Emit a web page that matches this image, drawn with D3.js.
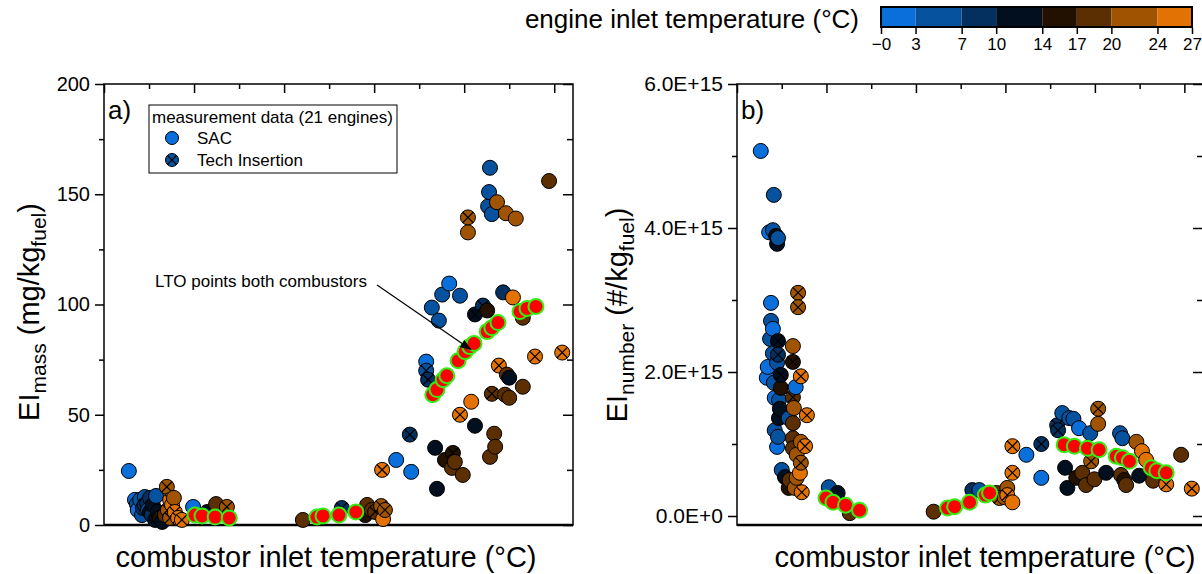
<!DOCTYPE html>
<html>
<head>
<meta charset="utf-8">
<script src="https://cdn.jsdelivr.net/npm/d3@7"></script>
<style>
  body { margin: 0; background: #fff; }
  svg { font-family: "Liberation Sans", Arial, sans-serif; }
  .axis path, .axis line { stroke: #000; }
  .axis text { font-size: 20px; fill: #000; }
</style>
</head>
<body>
<div id="chart"></div>
<script>
// colour bins of the engine inlet temperature (°C)
var tempBreaks = [3, 7, 10, 14, 17, 20, 24];
var tempColors = ["#0a6fda", "#07529f", "#03305e", "#020f1f", "#221100", "#5c2f02", "#a05402", "#e27204"];
var tempTicks = [0, 3, 7, 10, 14, 17, 20, 24, 27];
var tempTickLabels = ["\u22120", "3", "7", "10", "14", "17", "20", "24", "27"];

// panel a) EI mass, [combustor inlet temp (rel. units), EI mg/kg, engine inlet temp]
var aSac = [
  [5.3, 24.5, 1.5], [7.7, 11.4, 5], [8.7, 12.7, 5], [9.8, 12.3, 8.5], [7.0, 9.5, 5], [8.3, 7.7, 8.5],
  [9.4, 6.8, 5], [10.2, 4.5, 8.5], [10.9, 2.3, 12], [8.1, 4.5, 5], [7.2, 6.8, 1.5], [9.2, 10, 8.5],
  [10.4, 9.1, 12], [11.5, 5.9, 12], [11.9, 3.2, 15.5], [12.4, 1.4, 12], [6.6, 11.4, 1.5], [11.1, 13.2, 5],
  [13.0, 4.5, 18.5], [14.9, 12.3, 22], [19.0, 8.2, 1.5], [23.9, 9.5, 18.5], [22.0, 5.9, 12],
  [42.4, 2.3, 18.5], [56.1, 9.1, 18.5], [57.1, 6.8, 18.5], [59.5, 2.7, 25.5], [55.7, 4.5, 15.5],
  [62.3, 29.5, 1.5], [65.5, 24.1, 1.5],
  [82.3, 162, 5], [82.1, 151, 5], [81.9, 144.5, 5], [82.7, 141, 5], [83.8, 146.4, 22], [85.7, 141.4, 22],
  [87.8, 139, 22], [77.6, 132.7, 22], [94.9, 156, 18.5], [73.6, 109.5, 1.5], [72.1, 104.5, 5],
  [75.9, 104, 5], [85.1, 105.5, 8.5], [87.2, 103.2, 25.5], [69.9, 98.6, 5], [71.4, 92.7, 5],
  [81.7, 97.3, 15.5], [89.3, 94, 18.5], [68.7, 74.1, 1.5], [86.4, 66.8, 12], [85.9, 68.2, 18.5],
  [89.3, 62.7, 18.5], [86.4, 57.7, 18.5], [85.5, 59.1, 18.5], [78.3, 55.9, 25.5], [79.1, 45, 12],
  [70.6, 35, 12], [83.2, 41.4, 18.5], [83.4, 35.5, 18.5], [82.3, 30.9, 18.5], [72.7, 29.5, 15.5],
  [74.8, 28.6, 18.5], [74.2, 25.9, 18.5], [76.5, 22.7, 18.5], [71, 16.4, 12]
];
var aTech = [
  [8.7, 9.1, 8.5], [9.8, 5.9, 12], [13.4, 17.3, 22], [14.1, 11.4, 25.5], [14.5, 9.1, 25.5],
  [13.6, 6.8, 22], [15.1, 5.9, 25.5], [15.8, 3.2, 25.5], [14.1, 3.2, 22], [16.6, 2.3, 25.5],
  [26.2, 8.2, 22], [50.7, 7.7, 8.5], [57.8, 5.9, 18.5], [59.1, 8.6, 22], [59.9, 6.8, 22],
  [65.2, 41, 8.5], [59.3, 25, 25.5], [77.6, 139.5, 22], [80.8, 99.5, 8.5], [79.1, 95.5, 12],
  [68.7, 70, 5], [69.1, 65.9, 8.5], [84.2, 72.3, 25.5], [91.9, 76.4, 25.5], [97.7, 78.2, 25.5],
  [82.7, 59.5, 18.5], [75.9, 50, 25.5], [74.4, 32.7, 15.5]
];
var aLto = [
  [19.4, 4.5], [20.9, 4.1], [23.7, 3.6], [26.7, 3.2],
  [45.4, 3.6], [46.7, 4.1], [50.1, 4.5], [53.7, 5.9],
  [70.1, 59.1], [71, 61.4], [72.3, 65.9], [73.1, 67.7], [75.5, 74.5], [77, 78.6], [78, 80.9],
  [78.9, 82.3], [81.7, 87.7], [82.7, 89.5], [84, 91.8], [88.7, 96.8], [90.2, 98.2], [92.1, 99.1]
];

// panel b) EI number, y in 1e15 #/kg
var bSac = [
  [5.1, 5.07, 1.5], [7.9, 4.46, 5], [6.9, 3.94, 1.5], [7.7, 3.97, 5], [8.8, 3.86, 5], [8.6, 3.78, 12],
  [7.3, 2.96, 1.5], [7.3, 2.71, 5], [7.7, 2.6, 1.5], [7.1, 2.46, 5], [12, 2.36, 22], [7.7, 2.26, 5],
  [6.6, 2.07, 1.5], [8.6, 2.13, 5], [6.4, 1.92, 1.5], [7.9, 1.85, 5], [9.4, 1.78, 15.5], [12.6, 1.79, 1.5],
  [8.1, 1.64, 1.5], [9, 1.61, 5], [9.2, 1.49, 12], [12.2, 1.5, 22], [9, 1.36, 12], [11.1, 1.36, 5],
  [12, 1.29, 18.5], [8.1, 1.19, 5], [8.8, 1.1, 5], [8.6, 0.96, 1.5], [12, 1.08, 18.5], [13.7, 1.03, 22],
  [12, 0.94, 18.5], [12.8, 0.85, 22], [13.5, 0.6, 25.5], [9.6, 0.64, 5], [10.3, 0.54, 12],
  [11.3, 0.5, 18.5], [12.8, 0.53, 22], [11.1, 0.39, 15.5], [12.4, 0.39, 22], [19.7, 0.4, 5],
  [21.6, 0.32, 12], [24.2, 0.04, 18.5],
  [42.2, 0.06, 18.5], [50.5, 0.36, 8.5], [52, 0.36, 5], [55.7, 0.32, 18.5], [58, 0.39, 22],
  [59.1, 0.19, 25.5], [57.4, 0.26, 22], [62.1, 0.85, 1.5], [65.3, 0.53, 1.5],
  [69.8, 1.43, 5], [71.3, 1.36, 5], [72.2, 1.35, 5], [73.4, 1.22, 1.5], [75.8, 1.15, 5],
  [77.5, 1.28, 22], [82.2, 1.15, 5], [82.7, 1.08, 5], [85.7, 1.03, 22], [86.9, 0.9, 25.5],
  [87.8, 0.78, 25.5], [95.3, 0.85, 18.5], [70.4, 0.67, 12], [70.9, 0.39, 12], [72.8, 0.53, 15.5],
  [74.1, 0.6, 18.5], [74.9, 0.43, 18.5], [76.7, 0.51, 18.5], [79.2, 0.6, 12], [82.4, 0.57, 18.5],
  [83.5, 0.43, 18.5], [83.1, 0.5, 15.5], [86.3, 0.56, 12], [89.3, 0.49, 18.5]
];
var bTech = [
  [8.4, 3.89, 12], [13.1, 3.1, 22], [13.1, 2.9, 22], [8.8, 2.43, 12], [8.8, 2.24, 8.5], [12, 2.14, 15.5],
  [9.4, 1.96, 12], [13.7, 1.94, 25.5], [12, 1.65, 18.5], [15, 1.4, 25.5], [14.6, 0.97, 25.5],
  [13.7, 0.74, 22], [13.9, 0.33, 25.5],
  [56.3, 0.25, 22], [58, 0.29, 25.5], [59.1, 0.97, 25.5], [59.1, 0.6, 25.5], [65.3, 1.0, 8.5],
  [68.7, 1.26, 8.5], [68.9, 1.19, 8.5], [77.5, 1.49, 22], [76, 0.76, 22], [92.1, 0.44, 25.5],
  [97.6, 0.38, 25.5]
];
var bLto = [
  [19.1, 0.25], [20.6, 0.19], [23.3, 0.15], [26.3, 0.08],
  [45.2, 0.11], [46.7, 0.13], [49.9, 0.19], [53.3, 0.29], [54.2, 0.32],
  [70.2, 0.99], [72.4, 0.97], [75.2, 0.94], [77.7, 0.92], [81.4, 0.83], [82.7, 0.81], [84.2, 0.76],
  [88.9, 0.67], [90.1, 0.63], [92.1, 0.6]
];

var aYTicks = [0, 50, 100, 150, 200];
var aYMinor = [25, 75, 125, 175];
var bYTicks = [0, 2, 4, 6];
var bYMinor = [1, 3, 5];
var bYTickLabels = ["0.0E+0", "2.0E+15", "4.0E+15", "6.0E+15"];
var xMajor = [0, 19.2, 38.4, 57.6, 76.8, 96];
var xMinor = [9.6, 28.8, 48, 67.2, 86.4];

var W = 1202, H = 574, R = 7.5;
var color = d3.scaleThreshold().domain(tempBreaks).range(tempColors);

var svg = d3.select("#chart").append("svg")
  .attr("width", W).attr("height", H);

function drawPanel(o) {
  var g = svg.append("g");
  var x = d3.scaleLinear().domain([0, 100]).range([o.left, o.right]);
  var y = d3.scaleLinear().domain(o.yDomain).range([525, 84]);

  // minor + major ticks, left outward, right and top inward
  g.append("g").attr("class", "axis").attr("transform", "translate(" + o.left + ",0)")
    .call(d3.axisLeft(y).tickValues(o.minor).tickSize(5).tickFormat(""));
  g.append("g").attr("class", "axis").attr("transform", "translate(" + o.left + ",0)")
    .call(d3.axisLeft(y).tickValues(o.major).tickSize(9).tickPadding(5).tickFormat(o.fmt))
    .selectAll("text").style("font-size", o.tickFont);
  g.append("g").attr("class", "axis").attr("transform", "translate(" + o.right + ",0)")
    .call(d3.axisLeft(y).tickValues(o.minor).tickSize(6).tickFormat(""));
  g.append("g").attr("class", "axis").attr("transform", "translate(" + o.right + ",0)")
    .call(d3.axisLeft(y).tickValues(o.major).tickSize(10).tickFormat(""));
  g.append("g").attr("class", "axis").attr("transform", "translate(0,84)")
    .call(d3.axisBottom(x).tickValues(xMinor).tickSize(5).tickFormat(""));
  g.append("g").attr("class", "axis").attr("transform", "translate(0,84)")
    .call(d3.axisBottom(x).tickValues(xMajor).tickSize(9).tickFormat(""));
  g.selectAll(".axis .domain").remove();
  g.selectAll(".axis line").attr("stroke-width", 1.5);

  g.append("rect")
    .attr("x", o.left).attr("y", 84)
    .attr("width", o.right - o.left).attr("height", 525 - 84)
    .attr("fill", "none").attr("stroke", "#000").attr("stroke-width", 1.5);
  g.append("line")
    .attr("x1", o.left).attr("x2", o.right).attr("y1", 525).attr("y2", 525)
    .attr("stroke", "#000").attr("stroke-width", 2.5);

  var pts = o.sac.map(function(d) { return {d: d, t: "s"}; })
    .concat(o.tech.map(function(d) { return {d: d, t: "t"}; }));
  // keep a mixed draw order so both kinds overlap like the original
  pts.sort(function(p, q) { return p.d[0] - q.d[0]; });

  var m = g.append("g").selectAll("g").data(pts).enter().append("g")
    .attr("transform", function(p) { return "translate(" + x(p.d[0]) + "," + y(p.d[1]) + ")"; });
  m.append("circle").attr("r", R)
    .attr("fill", function(p) { return color(p.d[2]); })
    .attr("stroke", "#000").attr("stroke-width", 1);
  var k = R * 0.72;
  m.filter(function(p) { return p.t === "t"; }).append("path")
    .attr("d", "M" + -k + "," + -k + "L" + k + "," + k + "M" + -k + "," + k + "L" + k + "," + -k)
    .attr("stroke", "#000").attr("stroke-width", 1.2);

  g.append("g").selectAll("circle").data(o.lto).enter().append("circle")
    .attr("cx", function(d) { return x(d[0]); })
    .attr("cy", function(d) { return y(d[1]); })
    .attr("r", R)
    .attr("fill", "#ff0000").attr("stroke", "#33ee11").attr("stroke-width", 2);

  g.append("text").attr("x", o.left + 4).attr("y", 119)
    .style("font-size", "26px").text(o.tag);

  g.append("text").attr("x", o.xLabelX).attr("y", 567)
    .attr("text-anchor", "middle").style("font-size", "29px")
    .text("combustor inlet temperature (\u00b0C)");

  var yl = g.append("text")
    .attr("transform", "translate(" + o.yLabelX + "," + o.yLabelY + ") rotate(-90)")
    .attr("text-anchor", "middle").style("font-size", "29px");
  yl.append("tspan").text("EI");
  yl.append("tspan").attr("dy", 7).style("font-size", "21px").text(o.sub);
  yl.append("tspan").attr("dy", -7).text(o.unit);
  yl.append("tspan").attr("dy", 7).style("font-size", "21px").text("fuel");
  yl.append("tspan").attr("dy", -7).text(")");

  return {x: x, y: y, g: g};
}

var pa = drawPanel({
  left: 104, right: 573, yDomain: [0, 200], major: aYTicks, minor: aYMinor,
  fmt: d3.format("d"), tickFont: "20px", sac: aSac, tech: aTech, lto: aLto, tag: "a)",
  xLabelX: 326, yLabelX: 39, yLabelY: 312, sub: "mass", unit: " (mg/kg"
});
var pb = drawPanel({
  left: 737, right: 1203, yDomain: [-0.125, 6], major: bYTicks, minor: bYMinor,
  fmt: function(d, i) { return bYTickLabels[i]; }, tickFont: "21px",
  sac: bSac, tech: bTech, lto: bLto, tag: "b)",
  xLabelX: 985, yLabelX: 627, yLabelY: 315, sub: "number", unit: " (#/kg"
});

// legend in panel a
var lg = pa.g.append("g").attr("transform", "translate(149,105)");
lg.append("rect").attr("width", 248).attr("height", 68)
  .attr("fill", "#fff").attr("stroke", "#000").attr("stroke-width", 1);
lg.append("text").attr("x", 3).attr("y", 18).style("font-size", "17px")
  .text("measurement data (21 engines)");
lg.append("circle").attr("cx", 23).attr("cy", 33).attr("r", 6.5)
  .attr("fill", tempColors[0]).attr("stroke", "#000");
lg.append("text").attr("x", 48).attr("y", 39).style("font-size", "17px").text("SAC");
lg.append("circle").attr("cx", 23).attr("cy", 55).attr("r", 6.5)
  .attr("fill", tempColors[1]).attr("stroke", "#000");
lg.append("path").attr("d", "M18.5,50.5L27.5,59.5M18.5,59.5L27.5,50.5")
  .attr("stroke", "#000").attr("stroke-width", 1.2);
lg.append("text").attr("x", 48).attr("y", 61).style("font-size", "17px").text("Tech Insertion");

// annotation arrow pointing at the LTO points
svg.append("defs").append("marker")
  .attr("id", "arrow").attr("viewBox", "0 0 10 10")
  .attr("refX", 9).attr("refY", 5)
  .attr("markerWidth", 10).attr("markerHeight", 10)
  .attr("orient", "auto")
  .append("path").attr("d", "M0,1.5L10,5L0,8.5z").attr("fill", "#000");
pa.g.append("text").attr("x", 155).attr("y", 287).style("font-size", "17px")
  .text("LTO points both combustors");
pa.g.append("line")
  .attr("x1", 377).attr("y1", 285).attr("x2", pa.x(aLto[14][0]) + 1).attr("y2", pa.y(aLto[14][1]) + 3)
  .attr("stroke", "#000").attr("stroke-width", 1.2)
  .attr("marker-end", "url(#arrow)");

// colour bar
var cb = d3.scaleLinear().domain([0, 27]).range([881, 1192]);
var bar = svg.append("g");
bar.selectAll("rect").data(tempColors).enter().append("rect")
  .attr("x", function(c, i) { return cb(tempTicks[i]); })
  .attr("width", function(c, i) { return cb(tempTicks[i + 1]) - cb(tempTicks[i]); })
  .attr("y", 7).attr("height", 20)
  .attr("fill", function(c) { return c; });
bar.append("rect").attr("x", 881).attr("y", 7).attr("width", 311).attr("height", 20)
  .attr("fill", "none").attr("stroke", "#000").attr("stroke-width", 2);
bar.append("g").attr("class", "axis").attr("transform", "translate(0,28)")
  .call(d3.axisBottom(cb).tickValues(tempTicks).tickSize(6).tickPadding(4)
    .tickFormat(function(d, i) { return tempTickLabels[i]; }))
  .call(function(s) {
    s.select(".domain").remove();
    s.selectAll("text").style("font-size", "17px");
    s.selectAll("line").attr("stroke-width", 1.5);
  });
bar.append("text").attr("x", 859).attr("y", 28).attr("text-anchor", "end")
  .style("font-size", "26px").text("engine inlet temperature (\u00b0C)");
</script>
</body>
</html>
